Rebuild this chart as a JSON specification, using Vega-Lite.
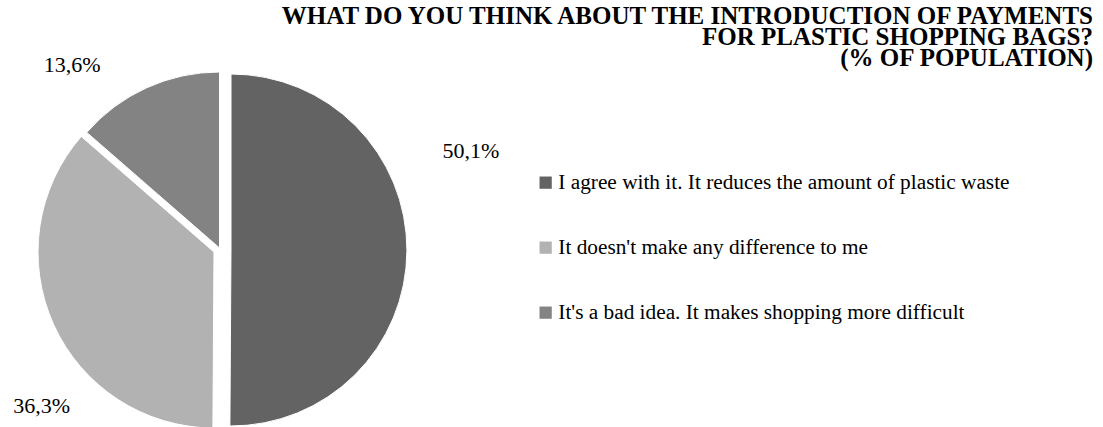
{
  "$schema": "https://vega.github.io/schema/vega-lite/v6.json",
  "width": 444,
  "height": 354,
  "autosize": {"type": "none"},
  "padding": {"left": 0, "top": 73, "right": 659, "bottom": 0},
  "background": "white",
  "title": {
    "text": ["WHAT DO YOU THINK ABOUT THE INTRODUCTION OF PAYMENTS", "FOR PLASTIC SHOPPING BAGS?", "(% OF POPULATION)"],
    "anchor": "end",
    "frame": "group",
    "dx": 649,
    "dy": 114,
    "font": "Liberation Serif",
    "fontSize": 25,
    "fontWeight": "bold",
    "lineHeight": 21,
    "color": "black",
    "offset": 0
  },
  "data": {
    "values": [
      {"answer": "I agree with it. It reduces the amount of plastic waste", "share": 50.1, "label": "50,1%", "rank": 1},
      {"answer": "It doesn't make any difference to me", "share": 36.3, "label": "36,3%", "rank": 2},
      {"answer": "It's a bad idea. It makes shopping more difficult", "share": 13.6, "label": "13,6%", "rank": 3}
    ]
  },
  "encoding": {
    "theta": {"field": "share", "type": "quantitative", "stack": true},
    "order": {"field": "rank", "type": "quantitative"}
  },
  "layer": [
    {
      "mark": {"type": "arc", "radius": 176, "xOffset": 9, "yOffset": 0, "stroke": "white", "strokeWidth": 1},
      "encoding": {
        "color": {
          "field": "answer", "type": "nominal", "sort": null,
          "scale": {
            "domain": ["I agree with it. It reduces the amount of plastic waste", "It doesn't make any difference to me", "It's a bad idea. It makes shopping more difficult"],
            "range": ["#636363", "#b2b2b2", "#838383"]
          },
          "legend": {
            "title": null,
            "orient": "none",
            "legendX": 535,
            "legendY": 99,
            "symbolType": "square",
            "symbolSize": 150,
            "symbolStrokeWidth": 0,
            "symbolOpacity": 1,
            "labelFont": "Liberation Serif",
            "labelFontSize": 21.3,
            "labelColor": "black",
            "labelLimit": 0,
            "labelOffset": 2,
            "rowPadding": 43
          }
        },
        "opacity": {"condition": {"test": "datum.rank === 1", "value": 1}, "value": 0}
      }
    },
    {
      "mark": {"type": "arc", "radius": 176, "xOffset": -8, "yOffset": 2, "stroke": "white", "strokeWidth": 1},
      "encoding": {
        "color": {"field": "answer", "type": "nominal", "sort": null},
        "opacity": {"condition": {"test": "datum.rank === 2", "value": 1}, "value": 0}
      }
    },
    {
      "mark": {"type": "arc", "radius": 176, "xOffset": -2.5, "yOffset": -2, "stroke": "white", "strokeWidth": 1},
      "encoding": {
        "color": {"field": "answer", "type": "nominal", "sort": null},
        "opacity": {"condition": {"test": "datum.rank === 3", "value": 1}, "value": 0}
      }
    },
    {
      "mark": {"type": "text", "radius": 200, "dx": 49, "dy": -100, "font": "Liberation Serif", "fontSize": 22, "color": "black"},
      "encoding": {"text": {"condition": {"test": "datum.rank === 1", "field": "label", "type": "nominal"}, "value": ""}}
    },
    {
      "mark": {"type": "text", "radius": 200, "dx": 2, "dy": 74, "font": "Liberation Serif", "fontSize": 22, "color": "black"},
      "encoding": {"text": {"condition": {"test": "datum.rank === 2", "field": "label", "type": "nominal"}, "value": ""}}
    },
    {
      "mark": {"type": "text", "radius": 200, "dx": -67, "dy": -3, "font": "Liberation Serif", "fontSize": 22, "color": "black"},
      "encoding": {"text": {"condition": {"test": "datum.rank === 3", "field": "label", "type": "nominal"}, "value": ""}}
    }
  ],
  "config": {"view": {"stroke": null}}
}
